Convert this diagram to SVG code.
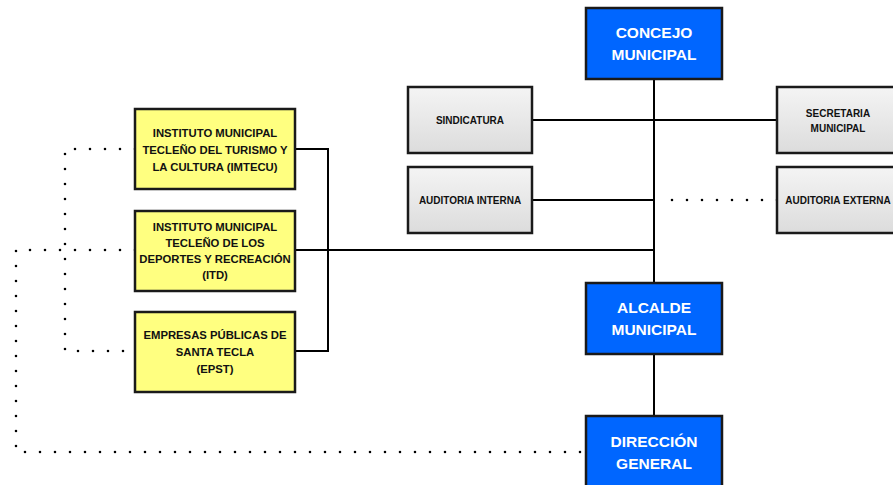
<svg xmlns="http://www.w3.org/2000/svg" width="893" height="485" viewBox="0 0 893 485">
<defs>
<linearGradient id="gray" x1="0" y1="0" x2="0" y2="1">
<stop offset="0" stop-color="#f4f4f4"/>
<stop offset="1" stop-color="#dcdcdc"/>
</linearGradient>
<style>
.blue{fill:#0066ff;stroke:#1a1a1a;stroke-width:2.5}
.gray{fill:url(#gray);stroke:#1a1a1a;stroke-width:2.5}
.yel{fill:#ffff80;stroke:#1a1a1a;stroke-width:2.5}
.tb{font-family:"Liberation Sans",Arial,sans-serif;font-weight:bold;font-size:15.5px;fill:#fff;text-anchor:middle}
.tg{font-family:"Liberation Sans",Arial,sans-serif;font-weight:bold;font-size:10px;fill:#111;text-anchor:middle}
.ty{font-family:"Liberation Sans",Arial,sans-serif;font-weight:bold;font-size:11.3px;fill:#111;text-anchor:middle}
.ln{fill:none;stroke:#000;stroke-width:2}
.dot{fill:none;stroke:#000;stroke-width:2.6;stroke-linecap:round;stroke-dasharray:0 15}
</style>
</defs>
<rect width="893" height="485" fill="#fff"/>
<g id="connectors">
<path class="ln" d="M654 79V283M532 120H777M532 200H654M295 250H654M295 149H328V351H295M654 355V416"/>
<path class="dot" d="M777 200H669"/>
<path class="dot" d="M135 149H65V351H135"/>
<path class="dot" d="M135 250H16V452H586"/>
</g>
<g id="concejo"><rect class="blue" x="586" y="8" width="136" height="71"/>
<text class="tb" x="654" y="38">CONCEJO</text><text class="tb" x="654" y="60">MUNICIPAL</text></g>
<g id="sindicatura"><rect class="gray" x="408" y="87" width="124" height="66"/>
<text class="tg" x="470" y="124">SINDICATURA</text></g>
<g id="secretaria"><rect class="gray" x="777" y="87" width="124" height="66"/>
<text class="tg" x="838" y="117">SECRETARIA</text><text class="tg" x="838" y="132">MUNICIPAL</text></g>
<g id="auditoria-interna"><rect class="gray" x="408" y="167" width="124" height="66"/>
<text class="tg" x="470" y="204">AUDITORIA INTERNA</text></g>
<g id="auditoria-externa"><rect class="gray" x="777" y="167" width="124" height="66"/>
<text class="tg" x="838" y="204">AUDITORIA EXTERNA</text></g>
<g id="alcalde"><rect class="blue" x="586" y="283" width="136" height="71"/>
<text class="tb" x="654" y="313">ALCALDE</text><text class="tb" x="654" y="335">MUNICIPAL</text></g>
<g id="direccion"><rect class="blue" x="586" y="416" width="136" height="75"/>
<text class="tb" x="654" y="447">DIRECCIÓN</text><text class="tb" x="654" y="469">GENERAL</text></g>
<g id="imtecu"><rect class="yel" x="135" y="109" width="160" height="80"/>
<text class="ty" x="215" y="137">INSTITUTO MUNICIPAL</text><text class="ty" x="215" y="154">TECLEÑO DEL TURISMO Y</text><text class="ty" x="215" y="171">LA CULTURA (IMTECU)</text></g>
<g id="itd"><rect class="yel" x="135" y="211" width="160" height="80"/>
<text class="ty" x="215" y="231">INSTITUTO MUNICIPAL</text><text class="ty" x="215" y="247">TECLEÑO DE LOS</text><text class="ty" x="215" y="263">DEPORTES Y RECREACIÓN</text><text class="ty" x="215" y="279">(ITD)</text></g>
<g id="epst"><rect class="yel" x="135" y="312" width="160" height="80"/>
<text class="ty" x="215" y="339">EMPRESAS PÚBLICAS DE</text><text class="ty" x="215" y="356">SANTA TECLA</text><text class="ty" x="215" y="373">(EPST)</text></g>
</svg>
